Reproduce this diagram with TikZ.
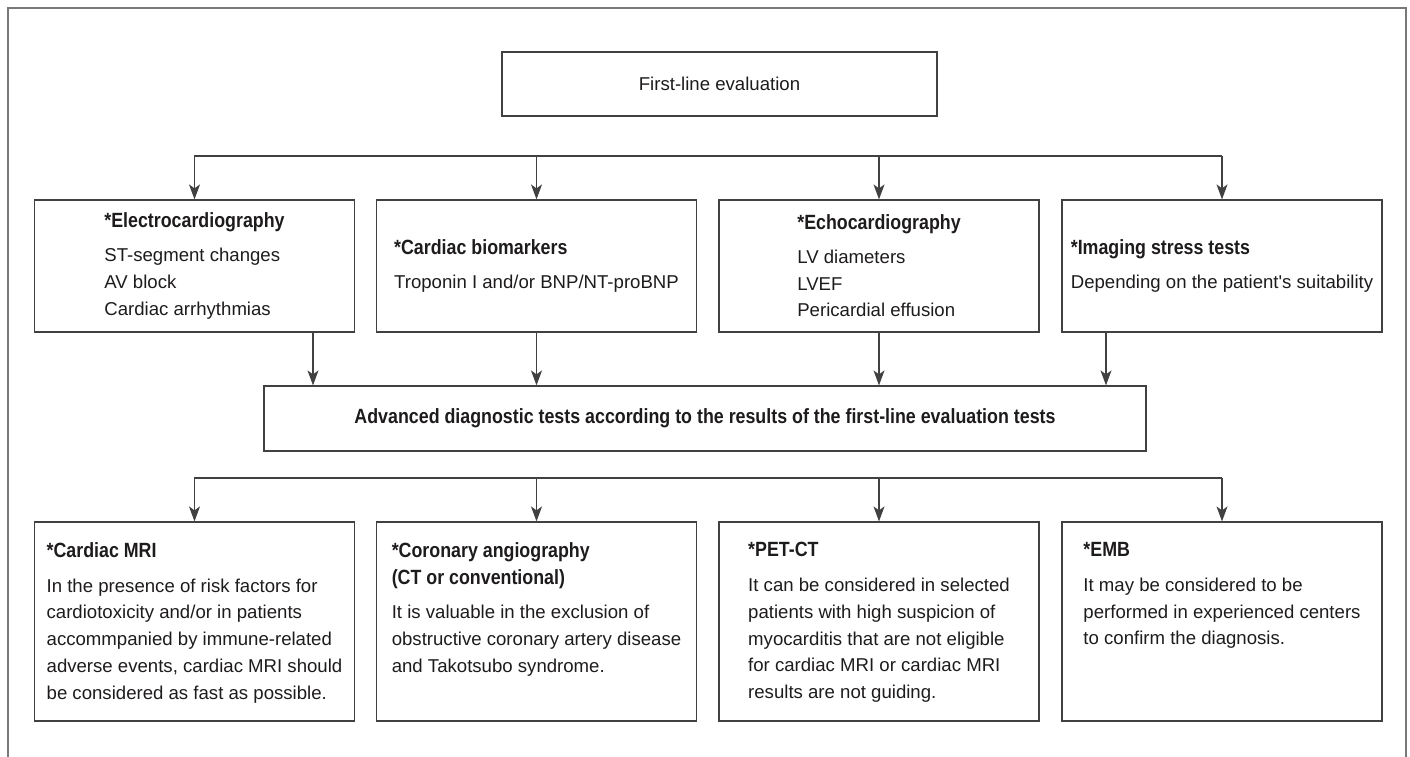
\documentclass[tikz,border=0pt]{standalone}
\usepackage{fontspec}
\setmainfont{Liberation Sans}[BoldFeatures={FakeStretch=0.865}]
\usetikzlibrary{arrows.meta}
\definecolor{inkgray}{RGB}{30,27,28}
\definecolor{boxgray}{RGB}{65,65,65}
\definecolor{framegray}{RGB}{120,120,120}
\newcommand{\hd}[1]{{\fontsize{20.6}{26.7}\selectfont\bfseries #1}}

\begin{document}
\begin{tikzpicture}[x=1pt, y=-1pt,
	every node/.style={text=inkgray, font=\fontsize{18.6}{26.7}\selectfont},
	box/.style={draw=boxgray, line width=1.2pt, align=left, inner sep=0pt},
	topbox/.style={box, minimum width=320pt, minimum height=132pt},
	lowbox/.style={draw=boxgray, line width=1.2pt, minimum width=320pt, minimum height=199pt},
	lowtext/.style={align=left, inner sep=0pt, anchor=north},
	arr/.style={-{Stealth[length=15pt, width=11pt, inset=4pt]}, draw=boxgray, line width=1.2pt}]
	\useasboundingbox (0,0) rectangle (1410,757);
	\draw[framegray, line width=1.5pt] (8,760) -- (8,8) -- (1406,8) -- (1406,760);

	\node[box, minimum width=435pt, minimum height=64pt] (first) at (719.5,84) {First-line evaluation};

	\node[topbox] (ecg) at (194.5,266) {\hd{*Electrocardiography}\\[7pt]ST-segment changes\\AV block\\Cardiac arrhythmias};
	\node[topbox] (bio) at (536.5,266) {\hd{*Cardiac biomarkers}\\[7pt]Troponin I and/or BNP/NT-proBNP};
	\node[topbox] (echo) at (879,266) {\hd{*Echocardiography}\\[7pt]LV diameters\\LVEF\\Pericardial effusion};
	\node[topbox] (stress) at (1222,266) {\hd{*Imaging stress tests}\\[7pt]Depending on the patient\textquotesingle s suitability};

	\node[box, minimum width=882pt, minimum height=65pt] (adv) at (705,418.5) {\hd{Advanced diagnostic tests according to the results of the first-line evaluation tests}};

	\node[lowbox] (mri) at (194.5,621.5) {};
	\node[lowbox] (cta) at (536.5,621.5) {};
	\node[lowbox] (pet) at (879,621.5) {};
	\node[lowbox] (emb) at (1222,621.5) {};
	\node[lowtext] (mritext) at ([yshift=-21pt]mri.north) {\hd{*Cardiac MRI}\\[8pt]In the presence of risk factors for\\cardiotoxicity and/or in patients\\accommpanied by immune-related\\adverse events, cardiac MRI should\\be considered as fast as possible.};
	\node[lowtext] (ctatext) at ([yshift=-21pt]cta.north) {\hd{*Coronary angiography}\\\hd{(CT or conventional)}\\[8pt]It is valuable in the exclusion of\\obstructive coronary artery disease\\and Takotsubo syndrome.};
	\node[lowtext] (pettext) at ([yshift=-21pt]pet.north) {\hd{*PET-CT}\\[8pt]It can be considered in selected\\patients with high suspicion of\\myocarditis that are not eligible\\for cardiac MRI or cardiac MRI\\results are not guiding.};
	\node[lowtext] (embtext) at ([yshift=-21pt]emb.north) {\hd{*EMB}\\[8pt]It may be considered to be\\performed in experienced centers\\to confirm the diagnosis.};

	\coordinate (topbus) at (0,156);
	\coordinate (lowbus) at (0,478);
	\coordinate (d1) at (313,0);
	\coordinate (d4) at (1106,0);

	\draw[arr] (stress.north |- topbus) -| (ecg.north);
	\draw[arr] (bio.north |- topbus) -- (bio.north);
	\draw[arr] (echo.north |- topbus) -- (echo.north);
	\draw[arr] (stress.north |- topbus) -- (stress.north);

	\draw[arr] (ecg.south -| d1) -- (adv.north -| d1);
	\draw[arr] (bio.south) -- (adv.north -| bio.south);
	\draw[arr] (echo.south) -- (adv.north -| echo.south);
	\draw[arr] (stress.south -| d4) -- (adv.north -| d4);

	\draw[arr] (emb.north |- lowbus) -| (mri.north);
	\draw[arr] (cta.north |- lowbus) -- (cta.north);
	\draw[arr] (pet.north |- lowbus) -- (pet.north);
	\draw[arr] (emb.north |- lowbus) -- (emb.north);
\end{tikzpicture}
\end{document}
